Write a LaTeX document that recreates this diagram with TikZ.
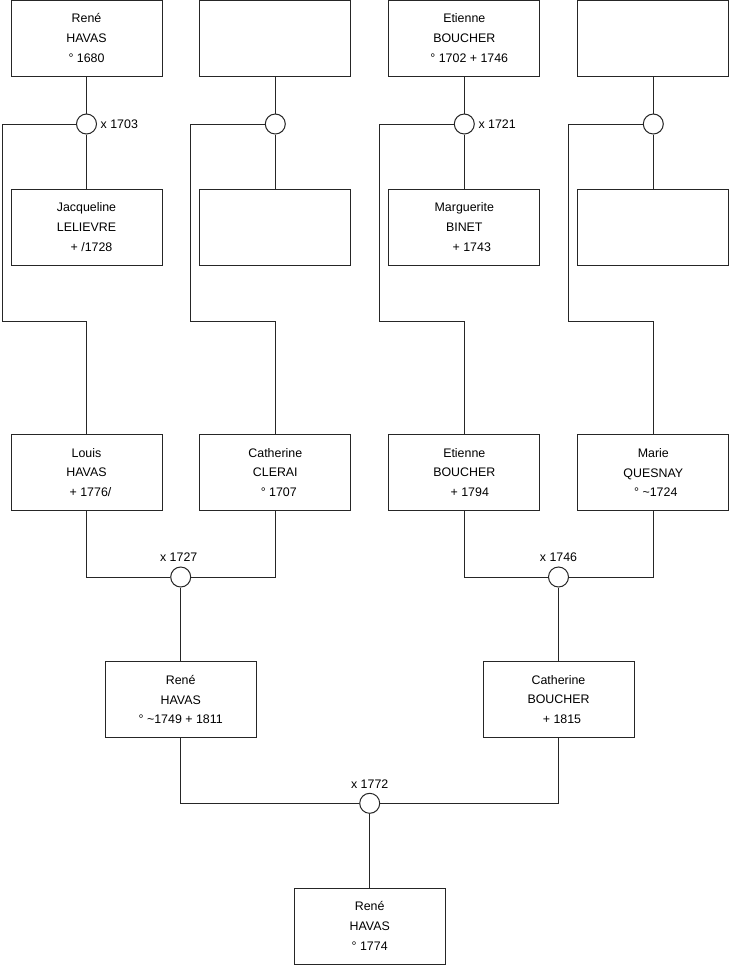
\documentclass[tikz,border=0pt]{standalone}
\usepackage{fontspec}
\setmainfont{Liberation Sans}
\begin{document}
\begin{tikzpicture}[x=1pt,y=-1pt,
  person/.style={draw=black!85, line width=1pt, minimum width=151pt, minimum height=76pt, inner sep=0pt, align=center, font=\fontsize{12.4}{19.7}\selectfont},
  wed/.style={circle, draw=black!85, fill=white, line width=1pt, minimum size=20pt, inner sep=0pt},
  link/.style={draw=black!85, line width=1pt},
  lbl/.style={font=\fontsize{12.4}{14}\selectfont, inner sep=0pt}]
\useasboundingbox (0,0) rectangle (740,975);
% row 1
\node[person] (p1) at (86.5,38) {René\\HAVAS\\° 1680};
\node[person] (p2) at (275.3,38) {};
\node[person] (p3) at (464.3,38) {Etienne\\BOUCHER\\\hspace*{10pt}° 1702 + 1746};
\node[person] (p4) at (653.3,38) {};
% row 2
\node[person] (p5) at (86.5,227) {Jacqueline\\LELIEVRE\\\hspace*{10pt}+ /1728};
\node[person] (p6) at (275.3,227) {};
\node[person] (p7) at (464.3,227) {Marguerite\\BINET\\\hspace*{15pt}+ 1743};
\node[person] (p8) at (653.3,227) {};
% row 3
\node[person] (p9) at (86.5,472.5) {Louis\\HAVAS\\\hspace*{8pt}+ 1776/};
\node[person] (p10) at (275.3,472.5) {Catherine\\CLERAI\\\hspace*{7pt}° 1707};
\node[person] (p11) at (464.3,472.5) {Etienne\\BOUCHER\\\hspace*{11pt}+ 1794};
\node[person] (p12) at (653.3,472.5) {Marie\\QUESNAY\\\hspace*{5pt}° \textasciitilde1724};
% row 4
\node[person] (p13) at (180.7,699.5) {René\\HAVAS\\° \textasciitilde1749 + 1811};
\node[person] (p14) at (558.5,699.5) {Catherine\\BOUCHER\\\hspace*{7pt}+ 1815};
% row 5
\node[person] (p15) at (369.7,926) {René\\HAVAS\\° 1774};
% marriage circles
\node[wed] (m1) at (86.5,124) {};
\node[wed] (m2) at (275.3,124) {};
\node[wed] (m3) at (464.3,124) {};
\node[wed] (m4) at (653.3,124) {};
\node[wed] (m5) at (180.7,577) {};
\node[wed] (m6) at (558.5,577) {};
\node[wed] (m7) at (369.7,803.3) {};
% labels
\node[lbl, anchor=west, xshift=3.5pt] (l1) at (m1.east) {x 1703};
\node[lbl, anchor=west, xshift=3.5pt] (l3) at (m3.east) {x 1721};
\node[lbl, anchor=south, yshift=4.5pt, xshift=-2pt] (l5) at (m5.north) {x 1727};
\node[lbl, anchor=south, yshift=4.5pt] (l6) at (m6.north) {x 1746};
\node[lbl, anchor=south, yshift=4.5pt] (l7) at (m7.north) {x 1772};
% connectors, top
\draw[link] (p1.south) -- (m1.north);
\draw[link] (m1.south) -- (p5.north);
\draw[link] (p2.south) -- (m2.north);
\draw[link] (m2.south) -- (p6.north);
\draw[link] (p3.south) -- (m3.north);
\draw[link] (m3.south) -- (p7.north);
\draw[link] (p4.south) -- (m4.north);
\draw[link] (m4.south) -- (p8.north);
\draw[link] (m1.west) -| (2,321.5) -| (p9.north);
\draw[link] (m2.west) -| (190.5,321.5) -| (p10.north);
\draw[link] (m3.west) -| (379,321.5) -| (p11.north);
\draw[link] (m4.west) -| (568.5,321.5) -| (p12.north);
% row 3 marriages
\draw[link] (p9.south) |- (m5.west);
\draw[link] (m5.east) -| (p10.south);
\draw[link] (m5.south) -- (p13.north);
\draw[link] (p11.south) |- (m6.west);
\draw[link] (m6.east) -| (p12.south);
\draw[link] (m6.south) -- (p14.north);
% final marriage
\draw[link] (p13.south) |- (m7.west);
\draw[link] (m7.east) -| (p14.south);
\draw[link] (m7.south) -- (p15.north);
\end{tikzpicture}
\end{document}
